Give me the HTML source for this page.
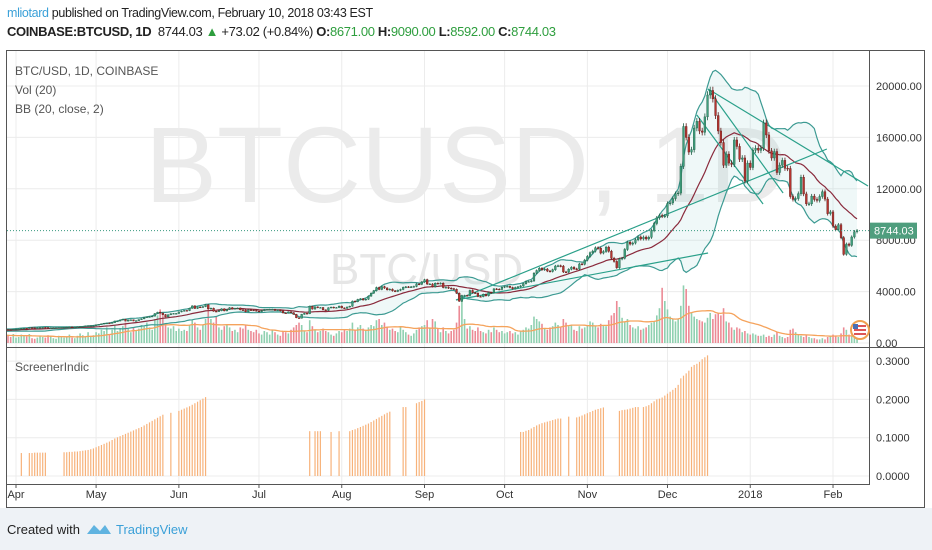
<!DOCTYPE html>
<html><head><meta charset="utf-8">
<style>
body{margin:0;width:932px;height:550px;background:#fff;font-family:"Liberation Sans",sans-serif;overflow:hidden;position:relative}
.hdr{position:absolute;left:7px;white-space:nowrap;font-size:12.5px;letter-spacing:-0.35px;color:#222}
.g{color:#2e9e3e}
.foot{position:absolute;left:0;top:508px;width:932px;height:42px;background:#eef2f6}
</style></head><body>
<div class="hdr" style="top:6px"><span style="color:#3aa0d8">mliotard</span> published on TradingView.com, February 10, 2018 03:43 EST</div>
<div class="hdr" style="top:24px;font-size:13px"><b>COINBASE:BTCUSD, 1D</b>&nbsp; 8744.03 <span class="g">▲</span> +73.02 (+0.84%) <b>O:</b><span class="g">8671.00</span> <b>H:</b><span class="g">9090.00</span> <b>L:</b><span class="g">8592.00</span> <b>C:</b><span class="g">8744.03</span></div>
<svg id="ch" width="932" height="550" style="position:absolute;left:0;top:0"></svg>
<div class="foot">
<span style="position:absolute;left:7px;top:14px;font-size:13px;color:#222">Created with</span>
<svg style="position:absolute;left:86px;top:14px" width="26" height="14"><path d="M1 12 L8 3 L14 9 L19 3 L25 12 Z" fill="#5fb3e0"/></svg>
<span style="position:absolute;left:116px;top:14px;font-size:13px;color:#3aa0d8">TradingView</span>
</div>
<script>
const closes=[940,970,960,1045,1045,1040,1035,1080,
1085,1095,1140,1140,1130,1195,1190,1185,1185,1210,1215,1205,1170,1180,1185,1190,1205,1210,1215,1235,1250,1240,1245,1260,1280,1290,1330,1345,1350,1350,
1420,1450,1495,1540,1550,1545,1585,1710,1710,1790,1850,1705,1790,1805,1720,1740,1820,1880,1980,2035,2045,2090,2290,2400,2330,2210,2030,2200,2280,2300,2300,
2420,2480,2530,2520,2700,2890,2690,2800,2780,2830,2970,2660,2710,2470,2450,2510,2660,2500,2610,2750,2650,2700,2720,2580,2570,2430,2580,2560,2540,2480,
2440,2520,2610,2610,2620,2620,2530,2570,2500,2340,2330,2420,2360,2230,1960,1930,2230,2310,2280,2860,2640,2810,2750,2760,2580,2540,2740,2790,2730,2760,2870,
2730,2700,2800,2860,3260,3220,3390,3440,3350,3410,3650,3880,4070,4320,4170,4390,4280,4140,4190,4060,4020,4100,4170,4330,4370,4350,4370,4400,4590,4570,4750,
4930,4590,4590,4380,4650,4620,4650,4320,4330,4270,4230,4180,3880,3250,3700,3700,3690,4090,3910,3880,3620,3610,3790,3670,3930,3900,4210,4190,4170,4340,
4400,4410,4320,4220,4320,4370,4440,4610,4780,4780,4830,5430,5640,5820,5700,5750,5600,5570,5700,5990,6010,5980,5530,5520,5740,5890,5770,5750,6150,6130,6450,
6740,7020,7150,7410,7380,7000,7120,7460,7140,6600,6350,5860,6540,6600,7280,7840,7700,7780,8040,8250,8100,8240,8100,8230,8750,9300,9740,9920,9870,9890,
10860,10900,11240,11620,11670,13750,16850,16000,14860,15050,16730,17250,16500,16400,17600,19300,19650,19000,17700,16500,15600,13830,14700,14000,13900,15800,15300,14300,14400,12600,14000,
13660,15000,15160,15000,15170,17130,16190,14950,14400,14900,13270,13840,14210,13600,13580,11400,11180,11240,11620,12900,11600,10830,10830,11430,11170,11100,11400,11770,11200,10070,10200,
9100,8830,9200,8200,6900,7700,7600,8250,8660,8744];
const volumes=[14,12,10,16,13,12,10,15,
9,10,14,12,11,15,8,7,9,12,10,9,13,11,8,7,12,10,9,11,14,9,8,12,16,13,10,18,11,13,
18,16,22,20,26,15,22,30,20,25,28,34,24,18,26,20,24,30,28,34,26,22,40,46,56,48,30,26,24,28,20,
24,20,22,20,30,38,34,26,22,30,40,58,40,34,45,26,22,28,30,26,20,22,18,26,24,30,22,20,18,22,
16,14,20,18,14,22,18,14,12,20,18,16,22,26,30,34,30,20,18,38,28,22,18,20,24,20,18,14,12,16,20,
18,22,20,24,34,22,26,30,24,20,26,30,28,38,40,30,34,26,22,24,20,18,26,22,18,14,12,16,22,26,28,
30,38,26,40,36,24,18,26,20,16,20,22,34,62,72,40,24,28,22,20,26,20,18,16,22,18,26,22,18,20,
16,18,20,16,18,14,20,22,26,24,30,44,40,36,32,24,22,26,28,34,30,26,40,34,28,30,22,20,28,24,26,
30,36,34,28,26,32,30,28,38,46,50,70,60,42,36,40,30,26,24,28,22,24,26,30,34,36,46,58,92,70,
56,44,40,36,40,62,96,90,62,50,44,40,38,36,34,42,50,40,48,50,46,58,36,34,26,22,26,24,18,20,16,
14,16,14,12,12,14,10,12,10,14,18,12,10,8,10,22,24,18,14,12,10,14,10,8,8,6,6,8,6,10,12,
14,12,10,16,26,22,14,12,10,8];
const indStarts=[10,13,26,66,69,118,120,126,129,133,153,158,197,215,218,234,243];
const indValues=[[0.06],[0.06,0.06,0.061,0.061,0.061,0.061,0.061],
[0.062,0.062,0.063,0.063,0.064,0.064,0.065,0.066,0.067,0.068,0.07,0.072,0.075,0.078,0.081,0.084,0.087,0.09,0.094,0.098,0.101,0.104,0.107,0.11,0.113,0.116,0.119,0.122,0.125,0.128,0.132,0.136,0.14,0.144,0.148,0.152,0.156,0.16],
[0.165],[0.17,0.173,0.176,0.179,0.182,0.186,0.19,0.194,0.198,0.202,0.206],
[0.117],[0.117,0.117,0.117],[0.115],[0.117],
[0.117,0.12,0.122,0.125,0.128,0.131,0.134,0.137,0.141,0.145,0.149,0.153,0.157,0.161,0.165,0.168],
[0.18,0.18],[0.19,0.193,0.196,0.2],
[0.115,0.115,0.118,0.12,0.124,0.128,0.132,0.135,0.138,0.14,0.142,0.144,0.146,0.148,0.15,0.15],
[0.155],[0.153,0.155,0.158,0.161,0.164,0.167,0.17,0.173,0.175,0.177,0.179],
[0.17,0.172,0.173,0.174,0.176,0.178,0.18,0.18],
[0.18,0.182,0.185,0.19,0.195,0.2,0.202,0.205,0.21,0.215,0.22,0.225,0.23,0.238,0.255,0.262,0.268,0.275,0.285,0.29,0.293,0.298,0.305,0.31,0.315]];
const priceTicks=[0,4000,8000,12000,16000,20000];
const indTicks=[0,0.1,0.2,0.3];
const monthLabels=['Apr','May','Jun','Jul','Aug','Sep','Oct','Nov','Dec','2018','Feb'];
const monthIdx=[8,38,69,99,130,161,191,222,252,283,314];
const trendLines=[[172.8,3346,267.2,7004],[172.8,3346,311.7,15097],[267.2,19767,327.1,12218],[267.2,19767,295.3,11673],[263,17743,287.8,10817]];
const lastPrice=8744.03;

const NS='http://www.w3.org/2000/svg';
const svg=document.getElementById('ch');
const X=i=>16+(i-8)*2.67;
const Y=p=>343-p*0.01285;
const YV=v=>343-v*0.6;
const YI=v=>476-v*383;
function el(t,a,parent){const e=document.createElementNS(NS,t);for(const k in a)e.setAttribute(k,a[k]);(parent||svg).appendChild(e);return e;}

const defs=el('defs',{});
const cp=el('clipPath',{id:'cm'},defs);el('rect',{x:7,y:51,width:862,height:296},cp);
const cp2=el('clipPath',{id:'ci'},defs);el('rect',{x:7,y:348,width:862,height:136},cp2);

const frame=el('rect',{x:6.5,y:50.5,width:918,height:457,fill:'#fff',stroke:'#555'});



const grid=el('g',{stroke:'#ececec','stroke-width':1});


monthIdx.forEach(i=>{el('line',{x1:X(i),x2:X(i),y1:51,y2:484},grid);});
priceTicks.forEach(p=>{el('line',{x1:7,x2:869,y1:Y(p),y2:Y(p)},grid);});
indTicks.forEach(v=>{el('line',{x1:7,x2:869,y1:YI(v),y2:YI(v)},grid);});

const main=el('g',{'clip-path':'url(#cm)'});


const wm=el('text',{x:145,y:202,'font-size':108,fill:'#ebebeb','font-family':'Liberation Sans, sans-serif'},main);wm.textContent='BTCUSD, 1D';


const wm2=el('text',{x:330,y:284,'font-size':44,fill:'#e6e6e6','font-family':'Liberation Sans, sans-serif'},main);wm2.textContent='BTC/USD';



const vg=el('g',{},main);


closes.forEach((c,i)=>{const o=i?closes[i-1]:930;const r=el('rect',{x:X(i)-0.8,y:YV(volumes[i]),width:1.6,height:343-YV(volumes[i]),fill:c>=o?'#8fd0b0':'#ec8a95'},vg);

});
function sma(arr,n,i){let s=0,k=0;for(let j=Math.max(0,i-n+1);j<=i;j++){s+=arr[j];k++;}return s/k;}
let vp='';volumes.forEach((v,i)=>{vp+=(i?'L':'M')+X(i).toFixed(1)+' '+YV(sma(volumes,20,i)).toFixed(1);});
const vma=el('path',{d:vp,fill:'none',stroke:'#f5a35c','stroke-width':1.3},main);



const up=[],lo=[],mid=[];
closes.forEach((c,i)=>{const m=sma(closes,20,i);let s=0,k=0;for(let j=Math.max(0,i-19);j<=i;j++){s+=(closes[j]-m)**2;k++;}const sd=Math.sqrt(s/k);mid.push(m);up.push(m+2*sd);lo.push(m-2*sd);});
let fp='';up.forEach((v,i)=>{fp+=(i?'L':'M')+X(i).toFixed(1)+' '+Y(v).toFixed(1);});
for(let i=lo.length-1;i>=0;i--)fp+='L'+X(i).toFixed(1)+' '+Y(lo[i]).toFixed(1);
const bbf=el('path',{d:fp+'Z',fill:'rgba(120,200,200,0.12)'},main);


const line=(arr,col,name)=>{let d='';arr.forEach((v,i)=>{d+=(i?'L':'M')+X(i).toFixed(1)+' '+Y(v).toFixed(1);});const p=el('path',{d:d,fill:'none',stroke:col,'stroke-width':1.2},main);

};
line(up,'#3c9a92','bb-upper');line(lo,'#3c9a92','bb-lower');line(mid,'#8a2a3c','bb-basis');

trendLines.forEach(t=>{const l=el('line',{x1:X(t[0]),y1:Y(t[1]),x2:X(t[2]),y2:Y(t[3]),stroke:'#2aa08a','stroke-width':1.2},main);

});

const cg=el('g',{},main);


closes.forEach((c,i)=>{const o=i?closes[i-1]:930;const u=c>=o;const hi=Math.max(o,c)*1.015,lw=Math.min(o,c)*0.985;const x=X(i);
const w=el('line',{x1:x,x2:x,y1:Y(hi),y2:Y(lw),stroke:u?'#1f5d45':'#5e1a18','stroke-width':0.8},cg);


const b=el('rect',{x:x-0.9,y:Y(Math.max(o,c)),width:1.8,height:Math.max(0.8,Math.abs(Y(o)-Y(c))),fill:u?'#3f9e7c':'#b5342f',stroke:u?'#1f5d45':'#5e1a18','stroke-width':0.4},cg);

});

const lp=el('line',{x1:7,x2:869,y1:Y(lastPrice),y2:Y(lastPrice),stroke:'#3a9a80','stroke-dasharray':'1,2'});



const ig=el('g',{'clip-path':'url(#ci)'});


indStarts.forEach((s,k)=>{indValues[k].forEach((v,j)=>{const x=X(s+j);const b=el('line',{x1:x,x2:x,y1:YI(0),y2:YI(v),stroke:'#f7b27a','stroke-width':1.2},ig);

});});

el('line',{x1:6,x2:925,y1:347.5,y2:347.5,stroke:'#555'});
el('line',{x1:6,x2:869,y1:484.5,y2:484.5,stroke:'#555'});
el('line',{x1:869.5,x2:869.5,y1:50,y2:485,stroke:'#555'});

priceTicks.forEach(p=>{const t=el('text',{x:876,y:Y(p)+4,'font-size':11,fill:'#333'});t.textContent=p.toFixed(2);

});
indTicks.forEach(v=>{const t=el('text',{x:876,y:YI(v)+4,'font-size':11,fill:'#333'});t.textContent=v.toFixed(4);

});
monthLabels.forEach((m,k)=>{const x=X(monthIdx[k]);el('line',{x1:x,x2:x,y1:484,y2:488,stroke:'#555'});const t=el('text',{x:x,y:498,'font-size':11,fill:'#333','text-anchor':'middle'});t.textContent=m;

});

const lb=el('rect',{x:870,y:Y(lastPrice)-8,width:47,height:16,fill:'#4f9e7e'});


const lt=el('text',{x:874,y:Y(lastPrice)+4,'font-size':11,fill:'#fff'});lt.textContent=lastPrice.toFixed(2);



const fl=el('circle',{cx:860,cy:330,r:9,fill:'#fff',stroke:'#f0a050','stroke-width':2});


el('rect',{x:854,y:325,width:12,height:2,fill:'#d55'});el('rect',{x:854,y:329,width:12,height:2,fill:'#d55'});el('rect',{x:854,y:333,width:12,height:2,fill:'#d55'});el('rect',{x:853,y:324,width:5,height:5,fill:'#4a6fb5'});

[['BTC/USD, 1D, COINBASE',75,'legend-symbol'],['Vol (20)',94,'legend-volume'],['BB (20, close, 2)',113,'legend-bb'],['ScreenerIndic',371,'legend-screener']].forEach(a=>{const t=el('text',{x:15,y:a[1],'font-size':12,fill:'#555'});t.textContent=a[0];

});
</script>
</body></html>
